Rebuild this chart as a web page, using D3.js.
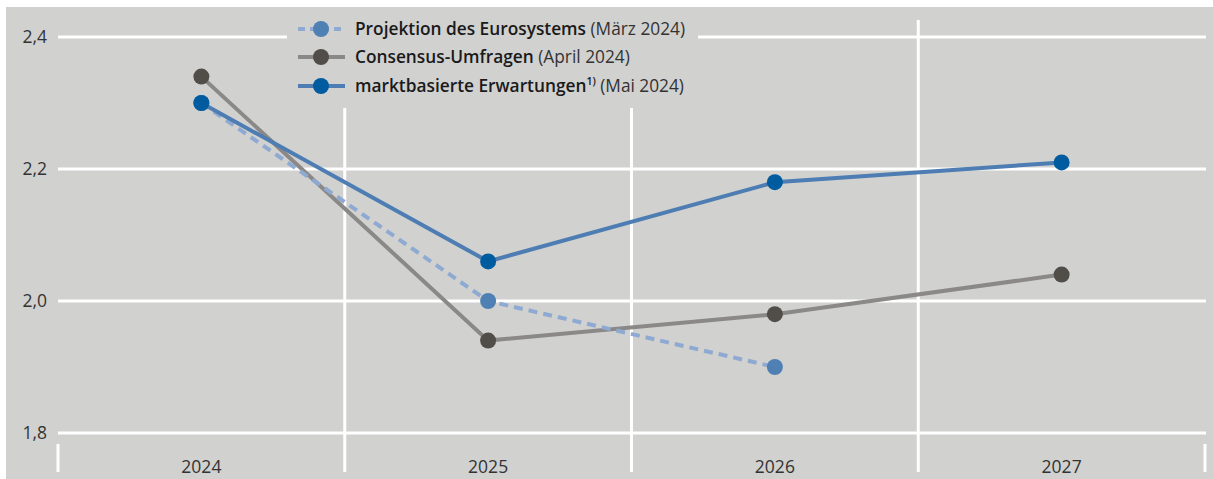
<!DOCTYPE html>
<html>
<head>
<meta charset="utf-8">
<script src="https://cdn.jsdelivr.net/npm/d3@7"></script>
<style>
  body { margin: 0; background: #fff; }
  svg { display: block; font-family: "Open Sans", sans-serif; }
</style>
</head>
<body>
<svg id="chart" width="1213" height="479"></svg>
<script>
const years = ["2024", "2025", "2026", "2027"];
const projektion = [2.3, 2.0, 1.9];
const consensus = [2.34, 1.94, 1.98, 2.04];
const markt = [2.3, 2.06, 2.18, 2.21];
const yTicks = [1.8, 2.0, 2.2, 2.4];

const series = [
  { name: "Projektion des Eurosystems", note: " (März 2024)", values: projektion,
    line: "#8eaad2", dot: "#4f80b3", dash: "9,6" },
  { name: "Consensus-Umfragen", note: " (April 2024)", values: consensus,
    line: "#8a8988", dot: "#514e4a", dash: null },
  { name: "marktbasierte Erwartungen", sup: "1)", note: " (Mai 2024)", values: markt,
    line: "#4d7db2", dot: "#005c9f", dash: null }
];

const width = 1213,
  height = 479,
  bg = "#d1d1d0",
  dotR = 8;

const svg = d3.select("#chart");

svg.append("rect").attr("width", width).attr("height", height).attr("fill", "#fff");
svg.append("rect")
  .attr("x", 6).attr("y", 7)
  .attr("width", width - 6).attr("height", height - 7)
  .attr("fill", bg);

const x = d3.scaleBand().domain(years).range([58, 1205]);
const y = d3.scaleLinear().domain([1.8, 2.4]).range([433, 37]);

// horizontal grid
svg.append("g")
  .selectAll("line")
  .data(yTicks)
  .join("line")
  .attr("x1", 58).attr("x2", 1206)
  .attr("y1", d => y(d)).attr("y2", d => y(d))
  .attr("stroke", "#fff").attr("stroke-width", 3);

// vertical separators between years
const seps = years.slice(1).map(d => x(d));
svg.append("g")
  .selectAll("line")
  .data(seps)
  .join("line")
  .attr("x1", d => d).attr("x2", d => d)
  .attr("y1", 20).attr("y2", 472)
  .attr("stroke", "#fff").attr("stroke-width", 3);

// outer ticks at the axis ends
svg.append("g")
  .selectAll("line")
  .data([x.range()[0], x.range()[1]])
  .join("line")
  .attr("x1", d => d).attr("x2", d => d)
  .attr("y1", 444).attr("y2", 472)
  .attr("stroke", "#fff").attr("stroke-width", 3);

// y labels
svg.append("g")
  .selectAll("text")
  .data(yTicks)
  .join("text")
  .attr("x", 47)
  .attr("y", d => y(d) + 6)
  .attr("text-anchor", "end")
  .attr("font-size", 17.5)
  .attr("fill", "#333")
  .text(d => d3.format(".1f")(d).replace(".", ","));

// x labels
svg.append("g")
  .selectAll("text")
  .data(years)
  .join("text")
  .attr("x", d => x(d) + x.bandwidth() / 2)
  .attr("y", 473)
  .attr("text-anchor", "middle")
  .attr("font-size", 17.5)
  .attr("fill", "#333")
  .text(d => d);

// legend box covers the grid
svg.append("rect")
  .attr("x", 287).attr("y", 7)
  .attr("width", 411).attr("height", 101)
  .attr("fill", bg);

const line = d3.line()
  .x((d, i) => x(years[i]) + x.bandwidth() / 2)
  .y(d => y(d));

// draw order: consensus, projektion, markt
[1, 0, 2].forEach(k => {
  const s = series[k];
  const g = svg.append("g");
  g.append("path")
    .attr("d", line(s.values))
    .attr("fill", "none")
    .attr("stroke", s.line)
    .attr("stroke-width", 4)
    .attr("stroke-dasharray", s.dash);
  g.selectAll("circle")
    .data(s.values)
    .join("circle")
    .attr("cx", (d, i) => x(years[i]) + x.bandwidth() / 2)
    .attr("cy", d => y(d))
    .attr("r", dotR)
    .attr("fill", s.dot);
});

// legend
const legendRows = [29, 57, 86];
const legend = svg.append("g")
  .selectAll("g")
  .data(series)
  .join("g")
  .attr("transform", (d, i) => `translate(0,${legendRows[i]})`);

legend.append("line")
  .attr("x1", 298).attr("x2", 345)
  .attr("stroke", d => d.line)
  .attr("stroke-width", 4)
  .attr("stroke-dasharray", d => d.dash ? "7,5" : null);
legend.append("circle")
  .attr("cx", 321).attr("r", dotR)
  .attr("fill", d => d.dot);

const lt = legend.append("text")
  .attr("x", 355).attr("y", 6)
  .attr("font-size", 17.3)
  .attr("fill", "#1a1a1a");
lt.append("tspan").attr("font-weight", 600).text(d => d.name);
lt.filter(d => d.sup).append("tspan")
  .attr("font-weight", 600)
  .attr("font-size", 10.5)
  .attr("dy", -7)
  .text(d => d.sup);
lt.append("tspan")
  .attr("font-weight", 400)
  .attr("fill", "#333")
  .attr("dy", d => d.sup ? 7 : 0)
  .text(d => d.note);
</script>
</body>
</html>
